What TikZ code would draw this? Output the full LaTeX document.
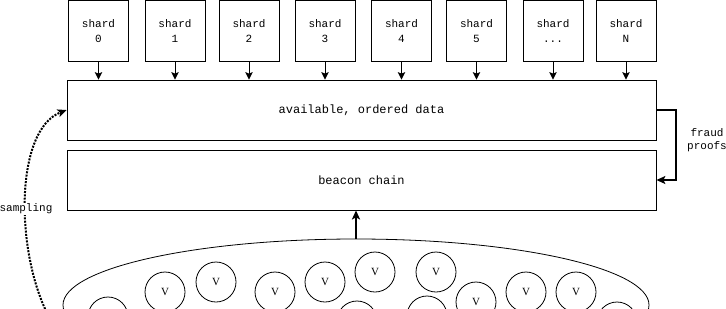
\documentclass[tikz,border=0pt]{standalone}
\usepackage{fontspec}
\setmainfont{Liberation Serif}
\setmonofont{Liberation Mono}
\usetikzlibrary{arrows.meta,shapes.geometric}
\newcommand\shdots{.{}.{}.}
\begin{document}
\begin{tikzpicture}[x={(1bp,0)},y={(0,-1bp)},
  shardbox/.style={draw,line width=0.8pt,minimum width=60bp,minimum height=61bp,inner sep=0pt,align=center,font=\ttfamily\fontsize{11bp}{15bp}\selectfont},
  bigbox/.style={draw,line width=0.8pt,minimum width=589bp,minimum height=60bp,inner sep=0pt,font=\ttfamily\fontsize{12bp}{14bp}\selectfont},
  vnode/.style={draw,circle,line width=0.8pt,minimum size=40bp,inner sep=0pt,font=\fontsize{11bp}{12bp}\selectfont},
  arr/.style={line width=0.9pt,-{Stealth[length=7.5bp,width=7.5bp,inset=1.5bp]}},
  lbl/.style={font=\ttfamily\fontsize{11bp}{13bp}\selectfont,align=center,inner sep=1bp}
]
\useasboundingbox (0,0) rectangle (726,308);
\clip (0,0) rectangle (726,308);

% shards
\foreach \n/\x/\t in {s0/98.5/0, s1/175/1, s2/249/2, s3/325/3, s4/401.5/4, s5/476.5/5, sd/553/\shdots, sN/626/N}{
  \node[shardbox] (\n) at (\x,31) {shard\\\t};
}

\node[bigbox] (data) at (361.5,110) {available, ordered data};
\node[bigbox] (beacon) at (361.5,180) {beacon chain};

\foreach \n in {s0,s1,s2,s3,s4,s5,sd,sN}{
  \draw[arr] (\n.south) -- (\n.south |- data.north);
}

% fraud proofs
\coordinate (fr) at (676,110);
\draw[line width=1.5bp,-{Stealth[length=9bp,width=8bp,inset=2bp]}] (data.east) -- (fr) |- (beacon.east);
\node[lbl] (frl) at (707,140) {fraud\\proofs};

% validators ellipse
\node[draw,ellipse,line width=0.8pt,minimum width=586bp,minimum height=132bp,inner sep=0pt] (val) at (356,305) {};
\draw[line width=2bp,-{Stealth[length=9bp,width=8bp,inset=2bp]}] (val.north) -- (val.north |- beacon.south);

\foreach \n/\x/\y in {v2/165/292, v3/216/282, v4/275/292, v5/325/282, v6/375/272, v8/436/272, v10/476/302, v11/526/292, v12/576/292}{
  \node[vnode] (\n) at (\x,\y) {V};
}
% validators whose label lies below the visible edge
\foreach \n/\x/\y in {v1/108/317, v7/357/321, v9/427/316, v13/617/322}{
  \node[vnode] (\n) at (\x,\y) {};
}

% sampling
\coordinate (sst) at (48,315);
\draw[line width=2bp,dash pattern=on 2bp off 1.3bp,-{Stealth[length=9bp,width=8bp,inset=2bp]}] (sst) .. controls (15,250) and (15,130) .. (data.west);
\node[lbl,fill=white] (samp) at (26,209) {sampling};
\end{tikzpicture}
\end{document}
